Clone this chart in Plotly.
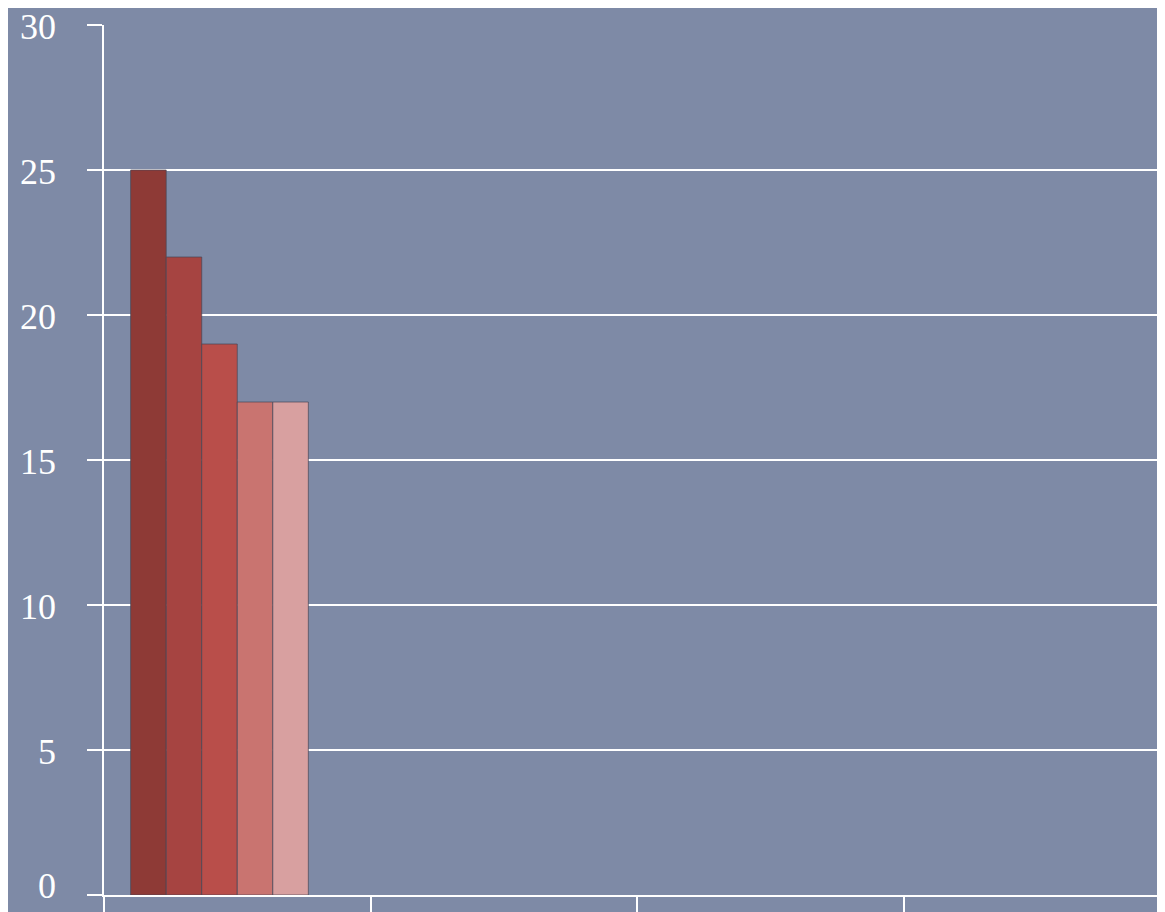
import plotly.graph_objects as go

categories = ["A", "B", "C", "D"]
series_names = ["Series 1", "Series 2", "Series 3", "Series 4", "Series 5", "Series 6"]
series_values = [
    [25, None, None, None],
    [22, None, None, None],
    [19, None, None, None],
    [17, None, None, None],
    [17, None, None, None],
    [None, None, None, None],
]
series_colors = ["#8E3A36", "#A64441", "#B94E4A", "#C97470", "#D8A0A0", "#E8C8C8"]
y_ticks = [0, 5, 10, 15, 20, 25, 30]

fig = go.Figure()
for name, vals, col in zip(series_names, series_values, series_colors):
    fig.add_trace(go.Bar(
        x=categories, y=vals, name=name,
        marker=dict(color=col, line=dict(color="rgba(70,70,85,0.7)", width=1)),
    ))

for v in y_ticks:
    fig.add_annotation(
        x=0, xref="paper", y=v, yref="y",
        text=str(v), showarrow=False,
        xanchor="right", yanchor="middle",
        xshift=-46, yshift=(9 if v == 0 else -2),
        font=dict(size=36, color="white", family="Liberation Serif"),
    )

fig.update_layout(
    width=1157, height=904,
    margin=dict(l=96, r=0, t=17, b=17, autoexpand=False),
    paper_bgcolor="#7E8AA6",
    plot_bgcolor="#7E8AA6",
    barmode="group",
    bargap=0.2,
    bargroupgap=0,
    showlegend=False,
    font=dict(family="Liberation Serif", color="white"),
)
fig.update_xaxes(
    type="category",
    range=[-0.5, 3.481],
    tickson="boundaries",
    ticks="outside", ticklen=25, tickwidth=2, tickcolor="white",
    showticklabels=False,
    showgrid=False,
    showline=True, linecolor="white", linewidth=2,
    automargin=False,
)
fig.update_yaxes(
    range=[0, 30],
    tickvals=y_ticks,
    ticks="outside", ticklen=15, tickwidth=2, tickcolor="white",
    showticklabels=False,
    showgrid=True, gridcolor="white", gridwidth=2,
    showline=True, linecolor="white", linewidth=2,
    zeroline=False,
    automargin=False,
)

fig.write_html("out.html")
